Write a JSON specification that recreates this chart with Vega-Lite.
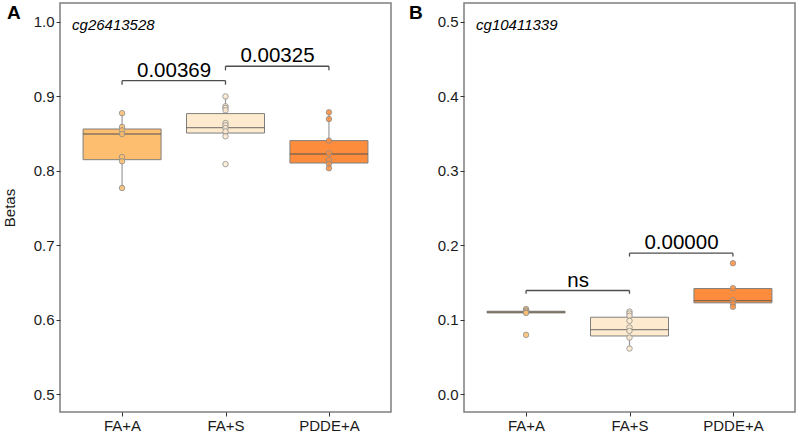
{
  "$schema": "https://vega.github.io/schema/vega-lite/v6.json",
  "autosize": {"type": "pad"},
  "padding": {"left": 1, "top": 2, "right": 1, "bottom": 0},
  "bounds": "flush",
  "spacing": 73,
  "background": "white",
  "config": {
    "font": "Liberation Sans",
    "view": {"stroke": "#7f7f7f", "strokeWidth": 1.5},
    "axis": {
      "grid": false, "domain": false, "tickColor": "#333333", "tickSize": 4, "tickWidth": 1,
      "labelColor": "#1a1a1a", "labelFontSize": 15, "labelFont": "Liberation Sans", "labelPadding": 2,
      "titleFont": "Liberation Sans", "titleFontSize": 15, "titleFontWeight": "normal", "titleColor": "#1a1a1a"
    }
  },
  "datasets": {
    "boxA": [
      {"group": "FA+A", "lo": 0.777, "q1": 0.815, "med": 0.8495, "q3": 0.8562, "hi": 0.8775},
      {"group": "FA+S", "lo": 0.8464, "q1": 0.8508, "med": 0.858, "q3": 0.8769, "hi": 0.900},
      {"group": "PDDE+A", "lo": 0.8035, "q1": 0.8105, "med": 0.8226, "q3": 0.8406, "hi": 0.8786}
    ],
    "ptsA": [
      {"group": "FA+A", "beta": 0.8775}, {"group": "FA+A", "beta": 0.859}, {"group": "FA+A", "beta": 0.8544},
      {"group": "FA+A", "beta": 0.8495}, {"group": "FA+A", "beta": 0.8186}, {"group": "FA+A", "beta": 0.8128},
      {"group": "FA+A", "beta": 0.777},
      {"group": "FA+S", "beta": 0.900}, {"group": "FA+S", "beta": 0.8867}, {"group": "FA+S", "beta": 0.8844},
      {"group": "FA+S", "beta": 0.8813}, {"group": "FA+S", "beta": 0.8643}, {"group": "FA+S", "beta": 0.8612},
      {"group": "FA+S", "beta": 0.8575}, {"group": "FA+S", "beta": 0.853}, {"group": "FA+S", "beta": 0.8464},
      {"group": "FA+S", "beta": 0.809},
      {"group": "PDDE+A", "beta": 0.8786}, {"group": "PDDE+A", "beta": 0.8696}, {"group": "PDDE+A", "beta": 0.8406},
      {"group": "PDDE+A", "beta": 0.8235}, {"group": "PDDE+A", "beta": 0.8145}, {"group": "PDDE+A", "beta": 0.8095},
      {"group": "PDDE+A", "beta": 0.8035}
    ],
    "brA": [
      {"g1": "FA+A", "g2": "FA+S", "y": 0.9212, "tip": 0.9158, "label": "0.00369", "ly": 0.9265},
      {"g1": "FA+S", "g2": "PDDE+A", "y": 0.9405, "tip": 0.935, "label": "0.00325", "ly": 0.9458}
    ],
    "tipA": [
      {"g": "FA+A", "y": 0.9212, "tip": 0.9158},
      {"g": "FA+S", "y": 0.9212, "tip": 0.9158},
      {"g": "FA+S", "y": 0.9405, "tip": 0.935},
      {"g": "PDDE+A", "y": 0.9405, "tip": 0.935}
    ],
    "boxB": [
      {"group": "FA+A", "lo": 0.1095, "q1": 0.1093, "med": 0.1103, "q3": 0.1115, "hi": 0.1115},
      {"group": "FA+S", "lo": 0.0615, "q1": 0.0783, "med": 0.0868, "q3": 0.1035, "hi": 0.1111},
      {"group": "PDDE+A", "lo": 0.1158, "q1": 0.1228, "med": 0.1258, "q3": 0.1420, "hi": 0.1425}
    ],
    "ptsB": [
      {"group": "FA+A", "beta": 0.1145}, {"group": "FA+A", "beta": 0.1125}, {"group": "FA+A", "beta": 0.1108},
      {"group": "FA+A", "beta": 0.1092}, {"group": "FA+A", "beta": 0.0798},
      {"group": "FA+S", "beta": 0.1111}, {"group": "FA+S", "beta": 0.1084}, {"group": "FA+S", "beta": 0.1054},
      {"group": "FA+S", "beta": 0.0986}, {"group": "FA+S", "beta": 0.0897}, {"group": "FA+S", "beta": 0.0852},
      {"group": "FA+S", "beta": 0.0762}, {"group": "FA+S", "beta": 0.0615},
      {"group": "PDDE+A", "beta": 0.176}, {"group": "PDDE+A", "beta": 0.1425}, {"group": "PDDE+A", "beta": 0.1263},
      {"group": "PDDE+A", "beta": 0.1219}, {"group": "PDDE+A", "beta": 0.1175}
    ],
    "brB": [
      {"g1": "FA+A", "g2": "FA+S", "y": 0.1394, "tip": 0.135, "label": "ns", "ly": 0.1447},
      {"g1": "FA+S", "g2": "PDDE+A", "y": 0.1895, "tip": 0.185, "label": "0.00000", "ly": 0.195}
    ],
    "tipB": [
      {"g": "FA+A", "y": 0.1394, "tip": 0.135},
      {"g": "FA+S", "y": 0.1394, "tip": 0.135},
      {"g": "FA+S", "y": 0.1895, "tip": 0.185},
      {"g": "PDDE+A", "y": 0.1895, "tip": 0.185}
    ],
    "geneA": [{"group": "FA+A", "beta": 0.9965, "gene": "cg26413528", "tag": "A", "tagy": 1.0036}],
    "geneB": [{"group": "FA+A", "beta": 0.4965, "gene": "cg10411339", "tag": "B", "tagy": 0.5036}]
  },
  "hconcat": [
    {
      "width": 331,
      "height": 409,
      "layer": [
        {
          "data": {"name": "boxA"},
          "mark": {"type": "rule", "color": "#9a9a9a", "strokeWidth": 1.2},
          "encoding": {
            "x": {"field": "group", "type": "nominal", "scale": {"type": "point", "padding": 0.6, "domain": ["FA+A", "FA+S", "PDDE+A"]}, "axis": {"title": null, "labelAngle": 0}},
            "y": {"field": "lo", "type": "quantitative", "scale": {"domain": [0.476, 1.0255], "nice": false, "zero": false}, "axis": {"title": "Betas", "values": [0.5, 0.6, 0.7, 0.8, 0.9, 1.0], "format": ".1f", "titlePadding": 16}},
            "y2": {"field": "hi"}
          }
        },
        {
          "data": {"name": "boxA"},
          "mark": {"type": "bar", "width": 78, "stroke": "#7f7f7f", "strokeWidth": 1},
          "encoding": {
            "x": {"field": "group", "type": "nominal"},
            "y": {"field": "q1", "type": "quantitative"},
            "y2": {"field": "q3"},
            "fill": {"field": "group", "type": "nominal", "scale": {"domain": ["FA+A", "FA+S", "PDDE+A"], "range": ["#fdbe6f", "#feebcf", "#fd8d3c"]}, "legend": null}
          }
        },
        {
          "data": {"name": "boxA"},
          "mark": {"type": "tick", "size": 78, "thickness": 1.4, "color": "#555555", "orient": "horizontal"},
          "encoding": {
            "x": {"field": "group", "type": "nominal"},
            "y": {"field": "med", "type": "quantitative"}
          }
        },
        {
          "data": {"name": "ptsA"},
          "mark": {"type": "point", "filled": true, "size": 30, "stroke": "#8c8c8c", "strokeWidth": 1, "fillOpacity": 0.85, "strokeOpacity": 0.8},
          "encoding": {
            "x": {"field": "group", "type": "nominal"},
            "y": {"field": "beta", "type": "quantitative"},
            "fill": {"field": "group", "type": "nominal", "legend": null}
          }
        },
        {
          "data": {"name": "brA"},
          "mark": {"type": "rule", "color": "#4d4d4d", "strokeWidth": 1.3},
          "encoding": {
            "x": {"field": "g1", "type": "nominal"},
            "x2": {"field": "g2"},
            "y": {"field": "y", "type": "quantitative"}
          }
        },
        {
          "data": {"name": "tipA"},
          "mark": {"type": "rule", "color": "#4d4d4d", "strokeWidth": 1.3},
          "encoding": {
            "x": {"field": "g", "type": "nominal"},
            "y": {"field": "y", "type": "quantitative"},
            "y2": {"field": "tip"}
          }
        },
        {
          "data": {"name": "brA"},
          "mark": {"type": "text", "fontSize": 20.5, "dx": 52, "align": "center", "baseline": "alphabetic", "color": "#000000"},
          "encoding": {
            "x": {"field": "g1", "type": "nominal"},
            "y": {"field": "ly", "type": "quantitative"},
            "text": {"field": "label"}
          }
        },
        {
          "data": {"name": "geneA"},
          "mark": {"type": "text", "fontSize": 15, "fontStyle": "italic", "dx": -50, "align": "left", "baseline": "middle", "color": "#000000"},
          "encoding": {
            "x": {"field": "group", "type": "nominal"},
            "y": {"field": "beta", "type": "quantitative"},
            "text": {"field": "gene"}
          }
        },
        {
          "data": {"name": "geneA"},
          "mark": {"type": "text", "fontSize": 19, "fontWeight": "bold", "dx": -115, "align": "left", "baseline": "alphabetic", "color": "#000000"},
          "encoding": {
            "x": {"field": "group", "type": "nominal"},
            "y": {"field": "tagy", "type": "quantitative"},
            "text": {"field": "tag"}
          }
        }
      ]
    },
    {
      "width": 331,
      "height": 409,
      "layer": [
        {
          "data": {"name": "boxB"},
          "mark": {"type": "rule", "color": "#9a9a9a", "strokeWidth": 1.2},
          "encoding": {
            "x": {"field": "group", "type": "nominal", "scale": {"type": "point", "padding": 0.6, "domain": ["FA+A", "FA+S", "PDDE+A"]}, "axis": {"title": null, "labelAngle": 0}},
            "y": {"field": "lo", "type": "quantitative", "scale": {"domain": [-0.0238, 0.5255], "nice": false, "zero": false}, "axis": {"title": null, "values": [0, 0.1, 0.2, 0.3, 0.4, 0.5], "format": ".1f"}},
            "y2": {"field": "hi"}
          }
        },
        {
          "data": {"name": "boxB"},
          "mark": {"type": "bar", "width": 78, "stroke": "#7f7f7f", "strokeWidth": 1},
          "encoding": {
            "x": {"field": "group", "type": "nominal"},
            "y": {"field": "q1", "type": "quantitative"},
            "y2": {"field": "q3"},
            "fill": {"field": "group", "type": "nominal", "scale": {"domain": ["FA+A", "FA+S", "PDDE+A"], "range": ["#fdbe6f", "#feebcf", "#fd8d3c"]}, "legend": null}
          }
        },
        {
          "data": {"name": "boxB"},
          "mark": {"type": "tick", "size": 78, "thickness": 1.4, "color": "#555555", "orient": "horizontal"},
          "encoding": {
            "x": {"field": "group", "type": "nominal"},
            "y": {"field": "med", "type": "quantitative"}
          }
        },
        {
          "data": {"name": "ptsB"},
          "mark": {"type": "point", "filled": true, "size": 30, "stroke": "#8c8c8c", "strokeWidth": 1, "fillOpacity": 0.85, "strokeOpacity": 0.8},
          "encoding": {
            "x": {"field": "group", "type": "nominal"},
            "y": {"field": "beta", "type": "quantitative"},
            "fill": {"field": "group", "type": "nominal", "legend": null}
          }
        },
        {
          "data": {"name": "brB"},
          "mark": {"type": "rule", "color": "#4d4d4d", "strokeWidth": 1.3},
          "encoding": {
            "x": {"field": "g1", "type": "nominal"},
            "x2": {"field": "g2"},
            "y": {"field": "y", "type": "quantitative"}
          }
        },
        {
          "data": {"name": "tipB"},
          "mark": {"type": "rule", "color": "#4d4d4d", "strokeWidth": 1.3},
          "encoding": {
            "x": {"field": "g", "type": "nominal"},
            "y": {"field": "y", "type": "quantitative"},
            "y2": {"field": "tip"}
          }
        },
        {
          "data": {"name": "brB"},
          "mark": {"type": "text", "fontSize": 20.5, "dx": 52, "align": "center", "baseline": "alphabetic", "color": "#000000"},
          "encoding": {
            "x": {"field": "g1", "type": "nominal"},
            "y": {"field": "ly", "type": "quantitative"},
            "text": {"field": "label"}
          }
        },
        {
          "data": {"name": "geneB"},
          "mark": {"type": "text", "fontSize": 15, "fontStyle": "italic", "dx": -50, "align": "left", "baseline": "middle", "color": "#000000"},
          "encoding": {
            "x": {"field": "group", "type": "nominal"},
            "y": {"field": "beta", "type": "quantitative"},
            "text": {"field": "gene"}
          }
        },
        {
          "data": {"name": "geneB"},
          "mark": {"type": "text", "fontSize": 19, "fontWeight": "bold", "dx": -117, "align": "left", "baseline": "alphabetic", "color": "#000000"},
          "encoding": {
            "x": {"field": "group", "type": "nominal"},
            "y": {"field": "tagy", "type": "quantitative"},
            "text": {"field": "tag"}
          }
        }
      ]
    }
  ]
}
